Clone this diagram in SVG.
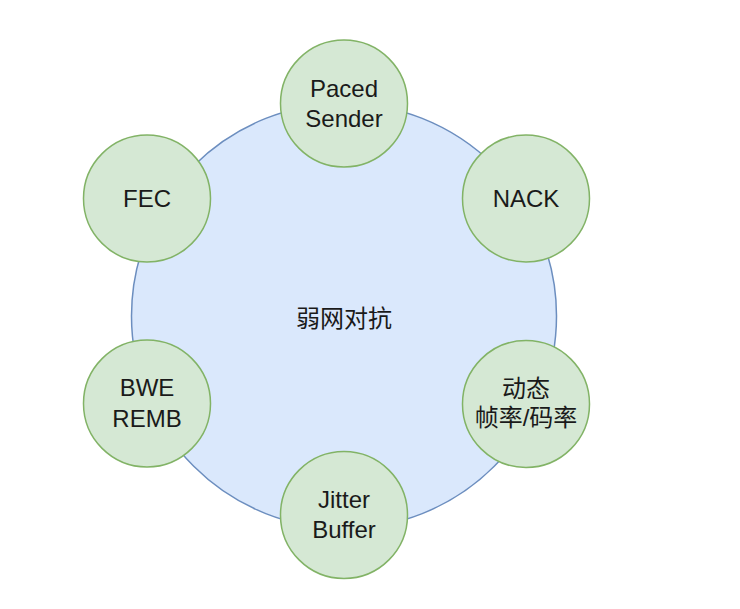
<svg xmlns="http://www.w3.org/2000/svg" width="740" height="609" viewBox="0 0 740 609">
<style>
.big{fill:#dae8fc;stroke:#6c8ebf;stroke-width:1.5}
.node{fill:#d5e8d4;stroke:#82b366;stroke-width:1.5}
text{font-family:"Liberation Sans","Noto Sans CJK SC",Arial,sans-serif;font-size:24px;fill:#1a1a1a;text-anchor:middle}
</style>
<rect width="740" height="609" fill="#ffffff"/>
<g id="center">
<circle class="big" cx="344" cy="316" r="212.5"/>
<text x="344" y="326.5">弱网对抗</text>
</g>
<g id="connectors"></g>
<g id="paced-sender">
<circle class="node" cx="344" cy="103.5" r="63.5"/>
<text x="344" y="96.5">Paced</text>
<text x="344" y="126.5">Sender</text>
</g>
<g id="nack">
<circle class="node" cx="526" cy="198.5" r="63.5"/>
<text x="526" y="207.3">NACK</text>
</g>
<g id="fec">
<circle class="node" cx="147" cy="198.5" r="63.5"/>
<text x="147" y="207.3">FEC</text>
</g>
<g id="bwe-remb">
<circle class="node" cx="147" cy="403.5" r="63.5"/>
<text x="147" y="396">BWE</text>
<text x="147" y="426.5">REMB</text>
</g>
<g id="dynamic-rate">
<circle class="node" cx="526" cy="404" r="63.5"/>
<text x="526" y="396.5">动态</text>
<text x="526" y="426">帧率/码率</text>
</g>
<g id="jitter-buffer">
<circle class="node" cx="344" cy="515" r="63.5"/>
<text x="344" y="508">Jitter</text>
<text x="344" y="538">Buffer</text>
</g>
</svg>
